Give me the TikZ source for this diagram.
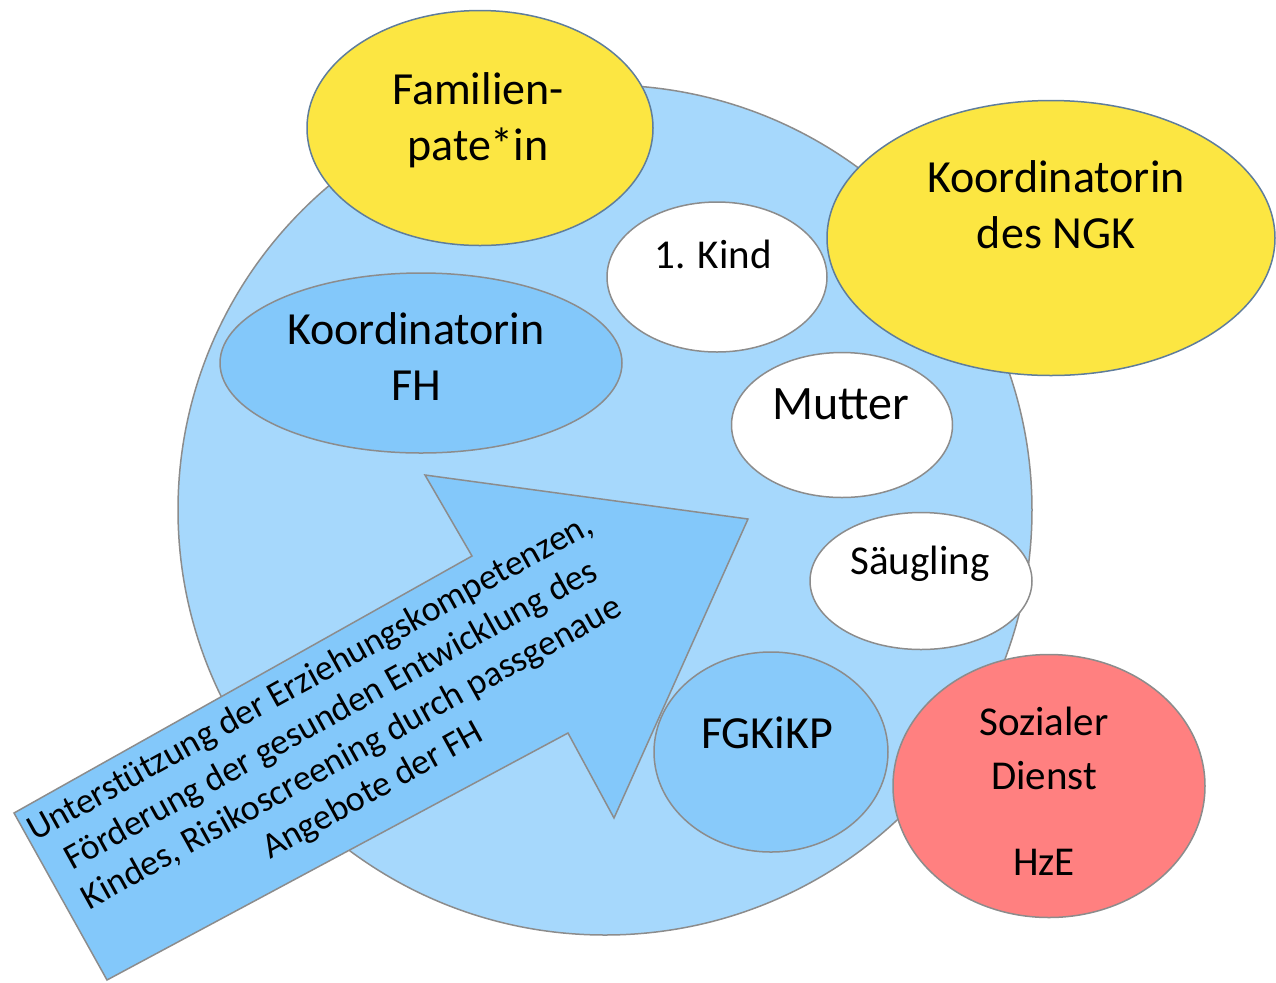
\documentclass[tikz,border=0pt]{standalone}
\usepackage{fontspec}
\setmainfont{Carlito}
\usetikzlibrary{shapes.geometric}
\definecolor{bigblue}{RGB}{166,216,252}
\definecolor{midblue}{RGB}{131,200,250}
\definecolor{sun}{RGB}{252,230,66}
\definecolor{salmon}{RGB}{255,128,128}
\definecolor{rim}{RGB}{140,140,140}
\definecolor{yrim}{RGB}{95,125,155}
\begin{document}
\begin{tikzpicture}[x=0.5pt,y=-0.5pt,
  blob/.style={ellipse, draw=rim, line width=0.75pt, inner sep=0pt},
  lbl/.style={anchor=base, inner sep=0pt, text=black},
  big/.style={font=\fontsize{23}{28}\selectfont},
  small/.style={font=\fontsize{20.5}{25}\selectfont}]
\useasboundingbox (0,0) rectangle (1276,982);
\clip (0,0) rectangle (1276,982);
% big group ellipse
\node[blob, fill=bigblue, minimum width=427pt, minimum height=425pt] (group) at (605,510) {};
% yellow
\node[blob, fill=sun, draw=yrim, minimum width=173pt, minimum height=117.5pt] (pate) at (480,128) {};
\node[blob, fill=sun, draw=yrim, minimum width=224pt, minimum height=137.5pt] (ngk) at (1051,238) {};
% inner ellipses
\node[blob, fill=white, minimum width=110pt, minimum height=75pt] (kind) at (717,277) {};
\node[blob, fill=midblue, minimum width=201pt, minimum height=90pt] (fh) at (421,363) {};
\node[blob, fill=white, minimum width=110.5pt, minimum height=72.5pt] (mutter) at (842,425) {};
\node[blob, fill=white, minimum width=111pt, minimum height=68.5pt] (saeug) at (921,581) {};
% arrow
\draw[draw=rim, line width=0.75pt, fill=midblue, line join=miter]
  (14,813) -- (472,556) -- (425,475) -- (748,519) -- (614,818) -- (568,733) -- (107,980) -- cycle;
\node[rotate=29, align=center, inner sep=0pt, font=\fontsize{18}{21.5}\selectfont] (arrtxt) at (342,735)
  {Unterstützung der Erziehungskompetenzen,\\Förderung der gesunden Entwicklung des\\Kindes, Risikoscreening durch passgenaue\\Angebote der FH};
% FGKiKP and Sozialer Dienst
\node[blob, fill=midblue, fill opacity=0.85, minimum width=117pt, minimum height=100pt] (fgk) at (771,752) {};
\node[blob, fill=salmon, minimum width=156pt, minimum height=131.5pt] (sd) at (1049,786) {};
% labels
\node[lbl, big] (t1) at (478,104) {Familien-};
\node[lbl, big] (t2) at (478,160) {pate*in};
\node[lbl, big] (t3) at (1056,192) {Koordinatorin};
\node[lbl, big] (t4) at (1056,248) {des NGK};
\node[lbl, small] (t5) at (713,268) {1. Kind};
\node[lbl, big] (t6) at (416,344) {Koordinatorin};
\node[lbl, big] (t7) at (416,400) {FH};
\node[lbl, font=\fontsize{24}{28}\selectfont] (t8) at (841,419) {Mutter};
\node[lbl, small] (t9) at (920,574) {Säugling};
\node[lbl, big] (t10) at (767,748) {FGKiKP};
\node[lbl, small] (t11) at (1044,735) {Sozialer};
\node[lbl, small] (t12) at (1044,789) {Dienst};
\node[lbl, small] (t13) at (1044,875) {HzE};
\end{tikzpicture}
\end{document}
